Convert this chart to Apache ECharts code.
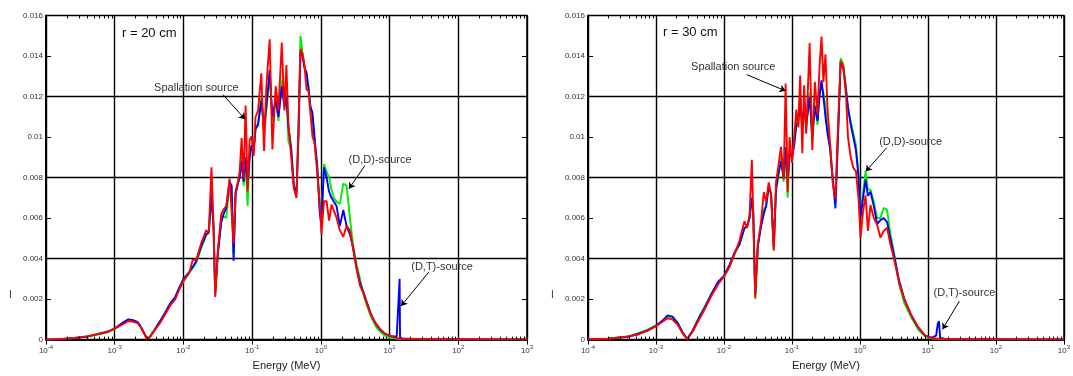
<!DOCTYPE html>
<html>
<head>
<meta charset="utf-8">
<script src="https://cdn.jsdelivr.net/npm/echarts@6/dist/echarts.min.js"></script>
<style>html,body{margin:0;padding:0;background:#fff}#c{width:1073px;height:376px}</style>
</head>
<body>
<div id="c"></div>
<script>
// ---------- DATA ----------
const xTickExponents = [-4, -3, -2, -1, 0, 1, 2, 3];
const minorMultipliers = [2, 3, 4, 5, 6, 7, 8, 9];
const yTickLabels = ['0', '0.002', '0.004', '0.006', '0.008', '0.01', '0.012', '0.014', '0.016'];

// r = 20 cm  (energy in MeV)
const leftEnergy = [1.00e-4,1.58e-4,2.51e-4,3.98e-4,6.31e-4,7.94e-4,1.00e-3,1.26e-3,1.58e-3,1.86e-3,2.14e-3,2.34e-3,2.63e-3,2.95e-3,3.24e-3,3.89e-3,4.57e-3,5.37e-3,6.46e-3,7.59e-3,8.51e-3,
 1.00e-2,1.22e-2,1.37e-2,1.53e-2,1.81e-2,2.14e-2,2.34e-2,2.56e-2,2.74e-2,2.90e-2,3.17e-2,3.55e-2,3.84e-2,4.20e-2,4.70e-2,5.02e-2,5.37e-2,5.74e-2,6.21e-2,6.58e-2,7.03e-2,7.52e-2,8.04e-2,8.59e-2,9.20e-2,9.84e-2,
 0.105,0.112,0.122,0.136,0.149,0.161,0.180,0.197,0.220,0.241,0.270,0.295,0.315,0.337,0.369,0.404,0.442,0.472,0.505,0.540,0.578,0.618,0.661,0.706,0.755,0.809,0.885,0.966,
 1.02,1.11,1.21,1.32,1.43,1.55,1.69,1.89,2.12,2.37,2.65,2.96,3.32,3.71,4.17,4.66,5.25,5.81,6.46,7.28,8.51,10.2,11.5,12.7,13.5,14.0,14.2,14.5,15.8,25.1,50.1,100,200,398,1000];
const leftGreen = [0,0.00003,0.00006,0.00014,0.00028,0.00037,0.00052,0.00075,0.00095,0.00092,0.00085,0.00068,0.00036,0.00004,0.00014,0.00056,0.00092,0.00130,0.00176,0.00205,0.00245,
 0.00285,0.00330,0.00355,0.00380,0.00450,0.00515,0.00525,0.00700,0.00560,0.00220,0.00430,0.00590,0.00610,0.00600,0.00770,0.00760,0.00420,0.00720,0.00770,0.00810,0.00900,0.00760,0.00880,0.00660,0.00920,0.00960,
 0.00930,0.01040,0.01070,0.01200,0.01020,0.01130,0.01300,0.01080,0.01200,0.01080,0.01280,0.01140,0.01220,0.00980,0.00940,0.00760,0.00730,0.01020,0.01500,0.01420,0.01350,0.01300,0.01250,0.01140,0.01080,0.00980,0.00850,0.00640,
 0.00590,0.00867,0.00830,0.00800,0.00740,0.00700,0.00680,0.00670,0.00770,0.00760,0.00600,0.00460,0.00370,0.00300,0.00220,0.00170,0.00120,0.00090,0.00060,0.00040,0.00020,0.00010,0.00006,0.00004,0.00004,0.00004,0.00004,0.00003,0.00003,0.00002,0.00002,0.00001,0.00001,0.00001,0.00001];
const leftBlue = [0,0.00002,0.00007,0.00015,0.00032,0.00040,0.00055,0.00080,0.00100,0.00096,0.00088,0.00070,0.00038,0.00004,0.00012,0.00052,0.00090,0.00132,0.00180,0.00210,0.00250,
 0.00300,0.00335,0.00360,0.00385,0.00460,0.00520,0.00530,0.00720,0.00560,0.00230,0.00420,0.00580,0.00620,0.00650,0.00780,0.00760,0.00390,0.00720,0.00770,0.00800,0.00880,0.00780,0.00900,0.00760,0.00900,0.00960,
 0.00920,0.01040,0.01060,0.01180,0.01050,0.01150,0.01330,0.01100,0.01180,0.01100,0.01250,0.01150,0.01200,0.01050,0.00950,0.00760,0.00720,0.01000,0.01420,0.01400,0.01340,0.01320,0.01240,0.01150,0.01120,0.01000,0.00860,0.00620,
 0.00570,0.00850,0.00800,0.00730,0.00700,0.00680,0.00660,0.00560,0.00640,0.00560,0.00520,0.00450,0.00350,0.00280,0.00235,0.00185,0.00135,0.00100,0.00072,0.00050,0.00030,0.00018,0.00015,0.00015,0.00018,0.00300,0.00010,0.00005,0.00004,0.00003,0.00002,0.00002,0.00001,0.00001,0.00001];
const leftRed = [0,0.00002,0.00008,0.00016,0.00030,0.00038,0.00055,0.00072,0.00092,0.00088,0.00082,0.00066,0.00035,0.00003,0.00012,0.00050,0.00082,0.00122,0.00170,0.00198,0.00240,
 0.00291,0.00331,0.00395,0.00392,0.00475,0.00539,0.00531,0.00851,0.00571,0.00211,0.00443,0.00619,0.00643,0.00659,0.00795,0.00787,0.00475,0.00731,0.00779,0.00827,0.00995,0.00795,0.01155,0.00731,0.00987,0.01003,
 0.00907,0.01099,0.01131,0.01315,0.00931,0.01251,0.01483,0.00939,0.01251,0.01131,0.01467,0.01131,0.01355,0.01067,0.00907,0.00747,0.00699,0.01051,0.01435,0.01411,0.01355,0.01235,0.01227,0.01115,0.01003,0.00971,0.00827,0.00667,
 0.00523,0.00683,0.00683,0.00587,0.00667,0.00635,0.00603,0.00539,0.00507,0.00563,0.00539,0.00443,0.00347,0.00267,0.00230,0.00180,0.00130,0.00100,0.00075,0.00052,0.00030,0.00020,0.00012,0.00008,0.00006,0.00005,0.00005,0.00004,0.00004,0.00003,0.00002,0.00002,0.00001,0.00001,0.00001];

// r = 30 cm  (energy in MeV)
const rightEnergy = [1.00e-4,2.00e-4,3.89e-4,5.37e-4,7.59e-4,1.00e-3,1.26e-3,1.48e-3,1.74e-3,2.09e-3,2.45e-3,2.88e-3,3.47e-3,4.27e-3,5.25e-3,6.53e-3,8.17e-3,
 1.00e-2,1.21e-2,1.43e-2,1.69e-2,2.00e-2,2.19e-2,2.38e-2,2.57e-2,2.69e-2,2.88e-2,3.15e-2,3.52e-2,3.85e-2,4.17e-2,4.56e-2,4.93e-2,5.40e-2,5.83e-2,6.31e-2,6.90e-2,7.55e-2,8.07e-2,8.65e-2,9.25e-2,
 0.100,0.108,0.116,0.124,0.132,0.142,0.151,0.162,0.182,0.199,0.217,0.238,0.254,0.272,0.290,0.311,0.333,0.364,0.398,0.436,0.476,0.521,0.570,0.624,0.667,0.729,0.798,0.873,0.955,
 1.02,1.11,1.21,1.31,1.43,1.60,1.79,2.00,2.24,2.51,2.81,3.16,3.78,4.50,5.69,7.19,9.10,11.5,13.2,14.0,14.6,15.1,17.8,31.6,63.1,126,316,1000];
const rightGreen = [0.00002,0.00006,0.00015,0.00030,0.00050,0.00070,0.00092,0.00110,0.00116,0.00085,0.00038,0.00003,0.00045,0.00110,0.00165,0.00225,0.00280,
 0.00310,0.00360,0.00420,0.00470,0.00550,0.00560,0.00600,0.00700,0.00640,0.00200,0.00470,0.00570,0.00640,0.00660,0.00750,0.00720,0.00440,0.00740,0.00800,0.00900,0.00780,0.00930,0.00700,0.00940,
 0.00900,0.00970,0.01080,0.01060,0.01180,0.01040,0.01160,0.01040,0.01220,0.00980,0.01160,0.01060,0.01220,0.01250,0.01220,0.01150,0.01040,0.00950,0.00780,0.00680,0.01020,0.01390,0.01360,0.01250,0.01130,0.01080,0.01020,0.00960,0.00820,
 0.00620,0.00720,0.00832,0.00740,0.00740,0.00680,0.00600,0.00600,0.00650,0.00640,0.00520,0.00430,0.00270,0.00180,0.00110,0.00050,0.00015,0.00005,0.00004,0.00004,0.00003,0.00003,0.00002,0.00002,0.00002,0.00001,0.00001,0.00001];
const rightBlue = [0.00002,0.00005,0.00014,0.00028,0.00046,0.00068,0.00095,0.00120,0.00112,0.00080,0.00036,0.00003,0.00045,0.00105,0.00160,0.00225,0.00285,
 0.00315,0.00370,0.00430,0.00470,0.00550,0.00560,0.00600,0.00700,0.00640,0.00220,0.00460,0.00560,0.00620,0.00660,0.00760,0.00720,0.00460,0.00740,0.00820,0.00880,0.00800,0.00950,0.00780,0.00920,
 0.00900,0.00960,0.01060,0.01080,0.01200,0.01050,0.01150,0.01060,0.01200,0.01000,0.01150,0.01080,0.01200,0.01280,0.01200,0.01100,0.01020,0.00940,0.00800,0.00648,0.01000,0.01370,0.01340,0.01230,0.01150,0.01064,0.01000,0.00936,0.00800,
 0.00600,0.00700,0.00790,0.00710,0.00730,0.00660,0.00570,0.00590,0.00600,0.00580,0.00500,0.00420,0.00290,0.00200,0.00120,0.00060,0.00020,0.00010,0.00020,0.00080,0.00090,0.00010,0.00003,0.00002,0.00002,0.00001,0.00001,0.00001];
const rightRed = [0.00002,0.00004,0.00016,0.00024,0.00044,0.00065,0.00089,0.00105,0.00100,0.00073,0.00032,0.00002,0.00040,0.00097,0.00152,0.00216,0.00272,
 0.00312,0.00360,0.00424,0.00488,0.00584,0.00552,0.00616,0.00888,0.00632,0.00208,0.00472,0.00584,0.00728,0.00680,0.00776,0.00712,0.00440,0.00776,0.00856,0.00952,0.00792,0.01264,0.00728,0.01000,
 0.00872,0.01000,0.01136,0.01048,0.01304,0.00920,0.01256,0.01016,0.01464,0.00936,0.01272,0.01112,0.01344,0.01496,0.01272,0.01408,0.01144,0.00968,0.00776,0.00696,0.01048,0.01376,0.01344,0.01208,0.01000,0.00904,0.00848,0.00832,0.00696,
 0.00504,0.00632,0.00712,0.00536,0.00664,0.00600,0.00568,0.00504,0.00536,0.00552,0.00470,0.00400,0.00280,0.00200,0.00120,0.00060,0.00020,0.00008,0.00005,0.00005,0.00004,0.00004,0.00003,0.00002,0.00002,0.00001,0.00001,0.00001];

// annotations (data coordinates: MeV, value)
const leftNotes = [
  { text: 'Spallation source', at: [0.0154, 0.01241], from: [0.0377, 0.01209], to: [0.0789, 0.01088] },
  { text: '(D,D)-source', at: [7.28, 0.00889], from: [4.39, 0.0086], to: [2.57, 0.00745] },
  { text: '(D,T)-source', at: [58.1, 0.00359], from: [37.6, 0.00335], to: [14.7, 0.00166] }
];
const rightNotes = [
  { text: 'Spallation source', at: [0.0137, 0.01347], from: [0.0216, 0.01308], to: [0.0804, 0.01228] },
  { text: '(D,D)-source', at: [5.57, 0.00976], from: [2.48, 0.00947], to: [1.22, 0.00831] },
  { text: '(D,T)-source', at: [34.4, 0.00229], from: [29.0, 0.0019], to: [16.4, 0.00051] }
];
const panelTitles = ['r = 20 cm', 'r = 30 cm'];

// ---------- CHART ----------
const FONT = 'Liberation Sans, Arial, sans-serif';
const chart = echarts.init(document.getElementById('c'), null, { renderer: 'canvas' });
const pair = (xs, ys) => xs.map((x, i) => [x, ys[i]]);

const grids = [
  { left: 46, top: 15.5, width: 481, height: 332 },
  { left: 588, top: 15.5, width: 479, height: 332 }
];

function xAxes(g) {
  const common = {
    type: 'log', logBase: 10, min: 1e-4, max: 1e3, splitNumber: 7, gridIndex: g,
    axisLine: { show: true, lineStyle: { color: '#000', width: 1.5 } },
    axisTick: { show: true, inside: true, length: 5, lineStyle: { color: '#000', width: 1 } },
    minorTick: { show: false }
  };
  return [
    Object.assign({}, common, {
      position: 'bottom',
      name: 'Energy (MeV)', nameLocation: 'middle', nameGap: 20,
      nameTextStyle: { fontFamily: FONT, fontSize: 11, color: '#222' },
      splitLine: { show: true, lineStyle: { color: '#000', width: 1.4 } },
      axisLabel: {
        margin: 5,
        formatter: v => '{b|10}{s|' + Math.round(Math.log10(v)) + '}',
        rich: {
          b: { fontFamily: FONT, fontSize: 8, color: '#333' },
          s: { fontFamily: FONT, fontSize: 6, color: '#333', padding: [0, 0, 7, 0] }
        }
      }
    }),
    Object.assign({}, common, { position: 'top', axisLabel: { show: false }, splitLine: { show: false } })
  ];
}
function yAxes(g) {
  const common = { type: 'value', min: 0, max: 0.016, gridIndex: g };
  return [
    Object.assign({}, common, {
      position: 'left', interval: 0.002,
      axisLine: { show: true, lineStyle: { color: '#000', width: 2 } },
      axisTick: { show: true, inside: true, length: 5, lineStyle: { color: '#000' } },
      axisLabel: { margin: 3, fontFamily: FONT, fontSize: 8, color: '#333', formatter: (v) => yTickLabels[Math.round(v / 0.002)] },
      splitLine: { show: false }
    }),
    Object.assign({}, common, {
      position: 'right', interval: 0.002,
      axisLine: { show: true, lineStyle: { color: '#000', width: 1.5 } },
      axisTick: { show: true, inside: true, length: 5, lineStyle: { color: '#000' } },
      axisLabel: { show: false }, splitLine: { show: false }
    }),
    Object.assign({}, common, {
      position: 'left', interval: 0.004,
      axisLine: { show: false }, axisTick: { show: false }, axisLabel: { show: false },
      splitLine: { show: true, lineStyle: { color: '#000', width: 1.4 } }
    })
  ];
}

function lineSeries(g, data, color, notes) {
  const s = {
    type: 'line', xAxisIndex: g * 2, yAxisIndex: g * 3, data: data,
    showSymbol: false, symbol: 'none', animation: false, silent: true,
    lineStyle: { color: color, width: 1.9 }, z: 3
  };
  if (notes) {
    s.markLine = {
      silent: true, animation: false, symbol: ['none', 'arrow'], symbolSize: 6,
      label: { show: false },
      lineStyle: { color: '#000', width: 1, type: 'solid' },
      data: notes.map(n => [{ coord: n.from }, { coord: n.to }])
    };
    s.markPoint = {
      silent: true, animation: false, symbol: 'circle', symbolSize: 0,
      data: notes.map(n => ({
        coord: n.at,
        label: { show: true, position: 'inside', formatter: n.text, fontFamily: FONT, fontSize: 11, color: '#333' }
      }))
    };
  }
  return s;
}

const baseGraphic = [
  { type: 'text', left: 122, top: 27, style: { text: panelTitles[0], fontFamily: FONT, fontSize: 13, fill: '#111' } },
  { type: 'text', left: 663, top: 26, style: { text: panelTitles[1], fontFamily: FONT, fontSize: 13, fill: '#111' } },
  { type: 'text', left: 9, top: 290, style: { text: 'I', fontFamily: FONT, fontSize: 10, fill: '#333' } },
  { type: 'text', left: 551, top: 290, style: { text: 'I', fontFamily: FONT, fontSize: 10, fill: '#333' } }
];

const option = {
  animation: false,
  backgroundColor: '#fff',
  grid: grids,
  xAxis: [...xAxes(0), ...xAxes(1)],
  yAxis: [...yAxes(0), ...yAxes(1)],
  series: [
    lineSeries(0, pair(leftEnergy, leftGreen), '#00ee00'),
    lineSeries(0, pair(leftEnergy, leftBlue), '#0000ff'),
    lineSeries(0, pair(leftEnergy, leftRed), '#ff0000', leftNotes),
    lineSeries(1, pair(rightEnergy, rightGreen), '#00ee00'),
    lineSeries(1, pair(rightEnergy, rightBlue), '#0000ff'),
    lineSeries(1, pair(rightEnergy, rightRed), '#ff0000', rightNotes)
  ],
  graphic: baseGraphic
};
chart.setOption(option);

// log minor ticks (2..9 x each decade), placed through the axis scale
const minorLines = [];
[0, 1].forEach(g => {
  const yb = chart.convertToPixel({ yAxisIndex: g * 3 }, 0);
  const yt = chart.convertToPixel({ yAxisIndex: g * 3 }, 0.016);
  xTickExponents.slice(0, -1).forEach(e => {
    minorMultipliers.forEach(m => {
      const v = m * Math.pow(10, e);
      const px = Math.round(chart.convertToPixel({ xAxisIndex: g * 2 }, v)) + 0.5;
      minorLines.push({ type: 'line', silent: true, z: 10, shape: { x1: px, y1: yb, x2: px, y2: yb - 3 }, style: { stroke: '#000', lineWidth: 1 } });
      minorLines.push({ type: 'line', silent: true, z: 10, shape: { x1: px, y1: yt, x2: px, y2: yt + 3 }, style: { stroke: '#000', lineWidth: 1 } });
    });
  });
});
chart.setOption({ graphic: baseGraphic.concat(minorLines) }, { replaceMerge: ['graphic'] });
</script>
</body>
</html>
